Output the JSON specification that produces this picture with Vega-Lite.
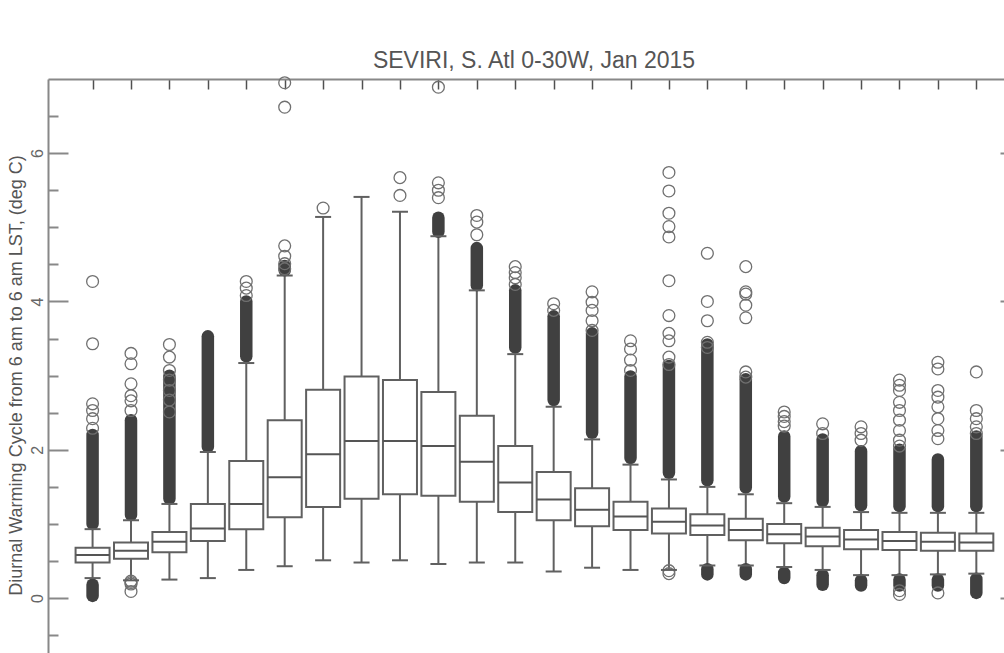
{
  "$schema": "https://vega.github.io/schema/vega-lite/v6.json",
  "width": 956,
  "height": 574,
  "autosize": "none",
  "padding": {"left": 48, "top": 79, "right": 0, "bottom": 0},
  "background": "white",
  "config": {"view": {"stroke": null}, "font": "Liberation Sans", "axis": {"grid": false}},
  "title": {"text": "SEVIRI, S. Atl 0-30W, Jan 2015", "frame": "group", "anchor": "middle", "dx": 8, "offset": -17, "baseline": "alphabetic", "fontSize": 23, "font": "Liberation Sans", "fontWeight": "normal", "color": "#555555"},
  "datasets": {
    "boxes": [
      {"hour": 1, "lo": 0.27, "q1": 0.48, "med": 0.58, "q3": 0.68, "hi": 0.93},
      {"hour": 2, "lo": 0.24, "q1": 0.53, "med": 0.64, "q3": 0.75, "hi": 1.05},
      {"hour": 3, "lo": 0.25, "q1": 0.62, "med": 0.76, "q3": 0.89, "hi": 1.27},
      {"hour": 4, "lo": 0.27, "q1": 0.77, "med": 0.94, "q3": 1.27, "hi": 1.97},
      {"hour": 5, "lo": 0.38, "q1": 0.93, "med": 1.27, "q3": 1.85, "hi": 3.17},
      {"hour": 6, "lo": 0.43, "q1": 1.09, "med": 1.63, "q3": 2.40, "hi": 4.35},
      {"hour": 7, "lo": 0.51, "q1": 1.23, "med": 1.94, "q3": 2.81, "hi": 5.14},
      {"hour": 8, "lo": 0.48, "q1": 1.34, "med": 2.12, "q3": 2.99, "hi": 5.41},
      {"hour": 9, "lo": 0.51, "q1": 1.40, "med": 2.12, "q3": 2.94, "hi": 5.21},
      {"hour": 10, "lo": 0.46, "q1": 1.38, "med": 2.05, "q3": 2.78, "hi": 4.88},
      {"hour": 11, "lo": 0.48, "q1": 1.30, "med": 1.84, "q3": 2.46, "hi": 4.15},
      {"hour": 12, "lo": 0.48, "q1": 1.16, "med": 1.56, "q3": 2.05, "hi": 3.29},
      {"hour": 13, "lo": 0.36, "q1": 1.05, "med": 1.33, "q3": 1.70, "hi": 2.58},
      {"hour": 14, "lo": 0.41, "q1": 0.97, "med": 1.19, "q3": 1.48, "hi": 2.14},
      {"hour": 15, "lo": 0.38, "q1": 0.92, "med": 1.10, "q3": 1.30, "hi": 1.80},
      {"hour": 16, "lo": 0.38, "q1": 0.87, "med": 1.03, "q3": 1.21, "hi": 1.60},
      {"hour": 17, "lo": 0.44, "q1": 0.85, "med": 0.98, "q3": 1.13, "hi": 1.50},
      {"hour": 18, "lo": 0.44, "q1": 0.78, "med": 0.92, "q3": 1.07, "hi": 1.40},
      {"hour": 19, "lo": 0.42, "q1": 0.74, "med": 0.86, "q3": 1.00, "hi": 1.28},
      {"hour": 20, "lo": 0.38, "q1": 0.70, "med": 0.83, "q3": 0.95, "hi": 1.23},
      {"hour": 21, "lo": 0.31, "q1": 0.66, "med": 0.79, "q3": 0.92, "hi": 1.16},
      {"hour": 22, "lo": 0.31, "q1": 0.65, "med": 0.77, "q3": 0.89, "hi": 1.15},
      {"hour": 23, "lo": 0.32, "q1": 0.64, "med": 0.76, "q3": 0.88, "hi": 1.15},
      {"hour": 24, "lo": 0.33, "q1": 0.64, "med": 0.75, "q3": 0.87, "hi": 1.15}
    ],
    "dense": [
      {"hour": 1, "y1": 1.00, "y2": 2.20}, {"hour": 1, "y1": 0.03, "y2": 0.18},
      {"hour": 2, "y1": 1.12, "y2": 2.40},
      {"hour": 3, "y1": 1.34, "y2": 3.00},
      {"hour": 4, "y1": 2.04, "y2": 3.53},
      {"hour": 5, "y1": 3.26, "y2": 4.00},
      {"hour": 6, "y1": 4.42, "y2": 4.48},
      {"hour": 10, "y1": 4.94, "y2": 5.13},
      {"hour": 11, "y1": 4.22, "y2": 4.72},
      {"hour": 12, "y1": 3.38, "y2": 4.15},
      {"hour": 13, "y1": 2.67, "y2": 3.80},
      {"hour": 14, "y1": 2.23, "y2": 3.57},
      {"hour": 15, "y1": 1.89, "y2": 2.99},
      {"hour": 16, "y1": 1.69, "y2": 3.13},
      {"hour": 17, "y1": 1.59, "y2": 3.42}, {"hour": 17, "y1": 0.32, "y2": 0.39},
      {"hour": 18, "y1": 1.49, "y2": 2.95}, {"hour": 18, "y1": 0.32, "y2": 0.39},
      {"hour": 19, "y1": 1.37, "y2": 2.18}, {"hour": 19, "y1": 0.27, "y2": 0.34},
      {"hour": 20, "y1": 1.31, "y2": 2.14}, {"hour": 20, "y1": 0.18, "y2": 0.31},
      {"hour": 21, "y1": 1.25, "y2": 1.98}, {"hour": 21, "y1": 0.17, "y2": 0.24},
      {"hour": 22, "y1": 1.24, "y2": 2.00}, {"hour": 22, "y1": 0.17, "y2": 0.25},
      {"hour": 23, "y1": 1.24, "y2": 1.87}, {"hour": 23, "y1": 0.17, "y2": 0.25},
      {"hour": 24, "y1": 1.24, "y2": 2.18}, {"hour": 24, "y1": 0.07, "y2": 0.26}
    ],
    "outliers": [
      {"hour": 1, "v": 4.27}, {"hour": 1, "v": 3.43}, {"hour": 1, "v": 2.62}, {"hour": 1, "v": 2.53}, {"hour": 1, "v": 2.42}, {"hour": 1, "v": 2.29},
      {"hour": 2, "v": 3.30}, {"hour": 2, "v": 3.16}, {"hour": 2, "v": 2.89}, {"hour": 2, "v": 2.73}, {"hour": 2, "v": 2.66}, {"hour": 2, "v": 2.53},
      {"hour": 2, "v": 0.23}, {"hour": 2, "v": 0.21}, {"hour": 2, "v": 0.19}, {"hour": 2, "v": 0.09},
      {"hour": 3, "v": 3.42}, {"hour": 3, "v": 3.25}, {"hour": 3, "v": 3.07}, {"hour": 3, "v": 2.94}, {"hour": 3, "v": 2.80}, {"hour": 3, "v": 2.67}, {"hour": 3, "v": 2.51},
      {"hour": 5, "v": 4.27}, {"hour": 5, "v": 4.18}, {"hour": 5, "v": 4.08},
      {"hour": 6, "v": 6.95}, {"hour": 6, "v": 6.62}, {"hour": 6, "v": 4.75}, {"hour": 6, "v": 4.61}, {"hour": 6, "v": 4.51}, {"hour": 6, "v": 4.44},
      {"hour": 7, "v": 5.26},
      {"hour": 9, "v": 5.67}, {"hour": 9, "v": 5.43},
      {"hour": 10, "v": 6.89}, {"hour": 10, "v": 5.60}, {"hour": 10, "v": 5.50}, {"hour": 10, "v": 5.40},
      {"hour": 11, "v": 5.16}, {"hour": 11, "v": 5.07}, {"hour": 11, "v": 4.90},
      {"hour": 12, "v": 4.47}, {"hour": 12, "v": 4.39}, {"hour": 12, "v": 4.32}, {"hour": 12, "v": 4.23},
      {"hour": 13, "v": 3.97}, {"hour": 13, "v": 3.88},
      {"hour": 14, "v": 4.13}, {"hour": 14, "v": 3.99}, {"hour": 14, "v": 3.88}, {"hour": 14, "v": 3.74}, {"hour": 14, "v": 3.61},
      {"hour": 15, "v": 3.47}, {"hour": 15, "v": 3.36}, {"hour": 15, "v": 3.21}, {"hour": 15, "v": 3.07},
      {"hour": 16, "v": 5.74}, {"hour": 16, "v": 5.49}, {"hour": 16, "v": 5.19}, {"hour": 16, "v": 5.01}, {"hour": 16, "v": 4.87}, {"hour": 16, "v": 4.28}, {"hour": 16, "v": 3.81}, {"hour": 16, "v": 3.57}, {"hour": 16, "v": 3.47}, {"hour": 16, "v": 3.25}, {"hour": 16, "v": 3.15},
      {"hour": 16, "v": 0.37}, {"hour": 16, "v": 0.33},
      {"hour": 17, "v": 4.65}, {"hour": 17, "v": 4.00}, {"hour": 17, "v": 3.74}, {"hour": 17, "v": 3.45}, {"hour": 17, "v": 3.38},
      {"hour": 18, "v": 4.47}, {"hour": 18, "v": 4.13}, {"hour": 18, "v": 4.10}, {"hour": 18, "v": 3.95}, {"hour": 18, "v": 3.78}, {"hour": 18, "v": 3.05}, {"hour": 18, "v": 2.98},
      {"hour": 19, "v": 2.51}, {"hour": 19, "v": 2.45}, {"hour": 19, "v": 2.38}, {"hour": 19, "v": 2.32},
      {"hour": 20, "v": 2.35}, {"hour": 20, "v": 2.22},
      {"hour": 21, "v": 2.31}, {"hour": 21, "v": 2.22}, {"hour": 21, "v": 2.13},
      {"hour": 22, "v": 2.94}, {"hour": 22, "v": 2.87}, {"hour": 22, "v": 2.80}, {"hour": 22, "v": 2.64}, {"hour": 22, "v": 2.53}, {"hour": 22, "v": 2.40}, {"hour": 22, "v": 2.26}, {"hour": 22, "v": 2.13}, {"hour": 22, "v": 2.05},
      {"hour": 22, "v": 0.10}, {"hour": 22, "v": 0.05},
      {"hour": 23, "v": 3.18}, {"hour": 23, "v": 3.09}, {"hour": 23, "v": 2.80}, {"hour": 23, "v": 2.71}, {"hour": 23, "v": 2.58}, {"hour": 23, "v": 2.42}, {"hour": 23, "v": 2.26}, {"hour": 23, "v": 2.15},
      {"hour": 23, "v": 0.07},
      {"hour": 24, "v": 3.05}, {"hour": 24, "v": 2.53}, {"hour": 24, "v": 2.42}, {"hour": 24, "v": 2.31}, {"hour": 24, "v": 2.22}
    ]
  },
  "resolve": {"axis": {"x": "independent", "y": "independent"}},
  "layer": [
    {
      "data": {"name": "boxes"},
      "mark": {"type": "rule", "color": "#606060", "strokeWidth": 2},
      "encoding": {
        "x": {"field": "hour", "type": "quantitative", "scale": {"domain": [-0.03, 24.59], "nice": false, "zero": false},
          "axis": {"orient": "top", "values": [1,2,3,4,5,6,7,8,9,10,11,12,13,14,15,16,17,18,19,20,21,22,23,24], "labels": false, "tickSize": -10, "tickColor": "#505050", "tickWidth": 1.5, "domainColor": "#888888", "domainWidth": 2, "title": null}},
        "y": {"field": "lo", "type": "quantitative", "scale": {"domain": [-0.74, 7], "nice": false, "zero": false},
          "axis": {"orient": "left", "values": [0, 2, 4, 6], "tickSize": -20, "tickColor": "#888888", "tickWidth": 2, "domainColor": "#888888", "domainWidth": 2,
            "labelAngle": -90, "labelAlign": "center", "labelBaseline": "bottom", "labelPadding": 23, "labelFont": "Liberation Sans", "labelFontSize": 16, "labelColor": "#666666",
            "title": "Diurnal Warming Cycle from 6 am to 6 am LST, (deg C)", "titleFont": "Liberation Sans", "titleFontSize": 18, "titleFontWeight": "normal", "titleColor": "#555555",
            "titleAngle": -90, "titleX": -27, "titleY": 296, "titleAlign": "center", "titleBaseline": "alphabetic"}},
        "y2": {"field": "hi"}
      }
    },
    {
      "data": {"name": "dense"},
      "mark": {"type": "rule", "color": "#404040", "strokeWidth": 12.5, "strokeCap": "round"},
      "encoding": {
        "x": {"field": "hour", "type": "quantitative", "scale": {"domain": [-0.03, 24.59], "nice": false, "zero": false}, "axis": null},
        "y": {"field": "y1", "type": "quantitative", "scale": {"domain": [-0.74, 7], "nice": false, "zero": false},
          "axis": {"orient": "left", "values": [-0.5, 0.5, 1, 1.5, 2.5, 3, 3.5, 4.5, 5, 5.5, 6.5], "tickSize": -10, "tickColor": "#888888", "tickWidth": 2, "labels": false, "domain": false, "title": null}},
        "y2": {"field": "y2"}
      }
    },
    {
      "data": {"name": "outliers"},
      "mark": {"type": "point", "shape": "circle", "filled": false, "size": 140, "stroke": "#707070", "strokeWidth": 1.3, "opacity": 1},
      "encoding": {
        "x": {"field": "hour", "type": "quantitative", "scale": {"domain": [-0.03, 24.59], "nice": false, "zero": false}, "axis": null},
        "y": {"field": "v", "type": "quantitative", "scale": {"domain": [-0.74, 7], "nice": false, "zero": false},
          "axis": {"orient": "right", "offset": 16, "values": [0, 2, 4, 6], "tickSize": -20, "tickColor": "#888888", "tickWidth": 2, "labels": false, "domainColor": "#888888", "domainWidth": 2, "title": null}}
      }
    },
    {
      "data": {"name": "boxes"},
      "mark": {"type": "tick", "orient": "horizontal", "size": 16, "thickness": 2, "color": "#606060", "opacity": 1},
      "encoding": {
        "x": {"field": "hour", "type": "quantitative", "scale": {"domain": [-0.03, 24.59], "nice": false, "zero": false}, "axis": null},
        "y": {"field": "lo", "type": "quantitative", "scale": {"domain": [-0.74, 7], "nice": false, "zero": false},
          "axis": {"orient": "right", "offset": 16, "values": [-0.5, 0.5, 1, 1.5, 2.5, 3, 3.5, 4.5, 5, 5.5, 6.5], "tickSize": -10, "tickColor": "#888888", "tickWidth": 2, "labels": false, "domain": false, "title": null}}
      }
    },
    {
      "data": {"name": "boxes"},
      "mark": {"type": "tick", "orient": "horizontal", "size": 16, "thickness": 2, "color": "#606060", "opacity": 1},
      "encoding": {
        "x": {"field": "hour", "type": "quantitative", "scale": {"domain": [-0.03, 24.59], "nice": false, "zero": false}, "axis": null},
        "y": {"field": "hi", "type": "quantitative", "scale": {"domain": [-0.74, 7], "nice": false, "zero": false}, "axis": null}
      }
    },
    {
      "data": {"name": "boxes"},
      "mark": {"type": "bar", "width": 34, "fill": "white", "stroke": "#606060", "strokeWidth": 2},
      "encoding": {
        "x": {"field": "hour", "type": "quantitative", "scale": {"domain": [-0.03, 24.59], "nice": false, "zero": false}, "axis": null},
        "y": {"field": "q1", "type": "quantitative", "scale": {"domain": [-0.74, 7], "nice": false, "zero": false}, "axis": null},
        "y2": {"field": "q3"}
      }
    },
    {
      "data": {"name": "boxes"},
      "mark": {"type": "tick", "orient": "horizontal", "size": 34, "thickness": 2, "color": "#555555", "opacity": 1},
      "encoding": {
        "x": {"field": "hour", "type": "quantitative", "scale": {"domain": [-0.03, 24.59], "nice": false, "zero": false}, "axis": null},
        "y": {"field": "med", "type": "quantitative", "scale": {"domain": [-0.74, 7], "nice": false, "zero": false}, "axis": null}
      }
    }
  ]
}
